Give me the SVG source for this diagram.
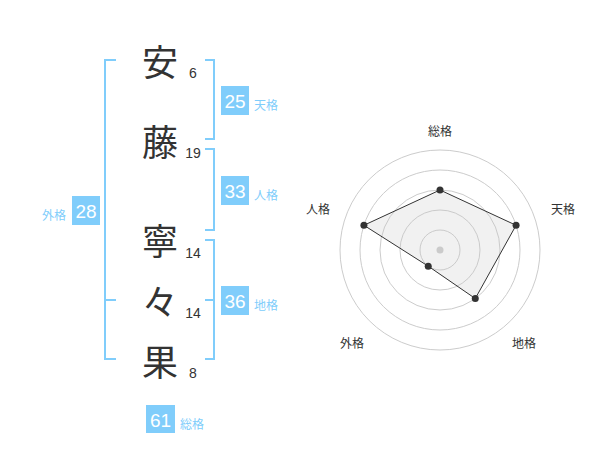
<svg xmlns="http://www.w3.org/2000/svg" width="600" height="470" viewBox="0 0 600 470">
<style>
.kanji{font-family:"Noto Sans CJK JP","Noto Sans CJK SC",sans-serif;font-size:36px;fill:#333;text-anchor:middle;dominant-baseline:central}
.num{font-family:"Liberation Sans",Arial,sans-serif;font-size:14px;fill:#333;text-anchor:middle;dominant-baseline:central}
.box{fill:#80cdfb}
.bnum{font-family:"Liberation Sans",Arial,sans-serif;font-size:19px;fill:#fff;text-anchor:middle;dominant-baseline:central}
.lbl{font-family:"Noto Sans CJK JP","Noto Sans CJK SC",sans-serif;font-size:12px;fill:#80cdfb;dominant-baseline:central}
.br{fill:none;stroke:#80cdfb;stroke-width:2}
.ring{fill:none;stroke:#ccc;stroke-width:1}
.rl{font-family:"Noto Sans CJK JP","Noto Sans CJK SC",sans-serif;font-size:12px;fill:#333;text-anchor:middle;dominant-baseline:central}
</style>
<rect width="600" height="470" fill="#fff"/>
<g id="name">
<text class="kanji" x="160" y="60">安</text>
<text class="kanji" x="160" y="140">藤</text>
<text class="kanji" x="160" y="239">寧</text>
<text class="kanji" x="160" y="300">々</text>
<text class="kanji" x="160" y="360">果</text>
<text class="num" x="193" y="73">6</text>
<text class="num" x="193" y="153">19</text>
<text class="num" x="193" y="253">14</text>
<text class="num" x="193" y="313">14</text>
<text class="num" x="193" y="373">8</text>
</g>
<g id="connectors">
<path class="br" d="M116,60 H105 V359 H116 M105,300 H116"/>
<path class="br" d="M205,60 H214 V139 H205"/>
<path class="br" d="M205,149 H214 V230 H205"/>
<path class="br" d="M205,240 H214 V359 H205 M214,300 H205"/>
</g>
<g id="tenkaku">
<rect class="box" x="221" y="86" width="28" height="29"/>
<text class="bnum" x="235" y="101">25</text>
<text class="lbl" x="254" y="104">天格</text>
</g>
<g id="jinkaku">
<rect class="box" x="221" y="176" width="28" height="29"/>
<text class="bnum" x="235" y="191">33</text>
<text class="lbl" x="254" y="194">人格</text>
</g>
<g id="chikaku">
<rect class="box" x="221" y="286" width="28" height="29"/>
<text class="bnum" x="235" y="301">36</text>
<text class="lbl" x="254" y="304">地格</text>
</g>
<g id="gaikaku">
<rect class="box" x="72" y="196" width="28" height="29"/>
<text class="bnum" x="86" y="211">28</text>
<text class="lbl" x="42" y="214">外格</text>
</g>
<g id="soukaku">
<rect class="box" x="146" y="405" width="29" height="28"/>
<text class="bnum" x="160.5" y="420">61</text>
<text class="lbl" x="180" y="423">総格</text>
</g>
<g id="radar">
<circle class="ring" cx="440" cy="250" r="20"/>
<circle class="ring" cx="440" cy="250" r="40"/>
<circle class="ring" cx="440" cy="250" r="60"/>
<circle class="ring" cx="440" cy="250" r="80"/>
<circle class="ring" cx="440" cy="250" r="100"/>
<circle cx="440" cy="250" r="3.5" fill="#ccc"/>
<polygon points="440,190 516.08,225.28 475.27,298.54 428.24,266.18 363.92,225.28" fill="rgba(200,200,200,0.25)" stroke="#333" stroke-width="1"/>
<g fill="#333">
<circle cx="440" cy="190" r="3.5"/>
<circle cx="516.08" cy="225.28" r="3.5"/>
<circle cx="475.27" cy="298.54" r="3.5"/>
<circle cx="428.24" cy="266.18" r="3.5"/>
<circle cx="363.92" cy="225.28" r="3.5"/>
</g>
<text class="rl" x="440" y="130">総格</text>
<text class="rl" x="563" y="208">天格</text>
<text class="rl" x="524" y="342">地格</text>
<text class="rl" x="352" y="342">外格</text>
<text class="rl" x="318" y="208">人格</text>
</g>
</svg>
